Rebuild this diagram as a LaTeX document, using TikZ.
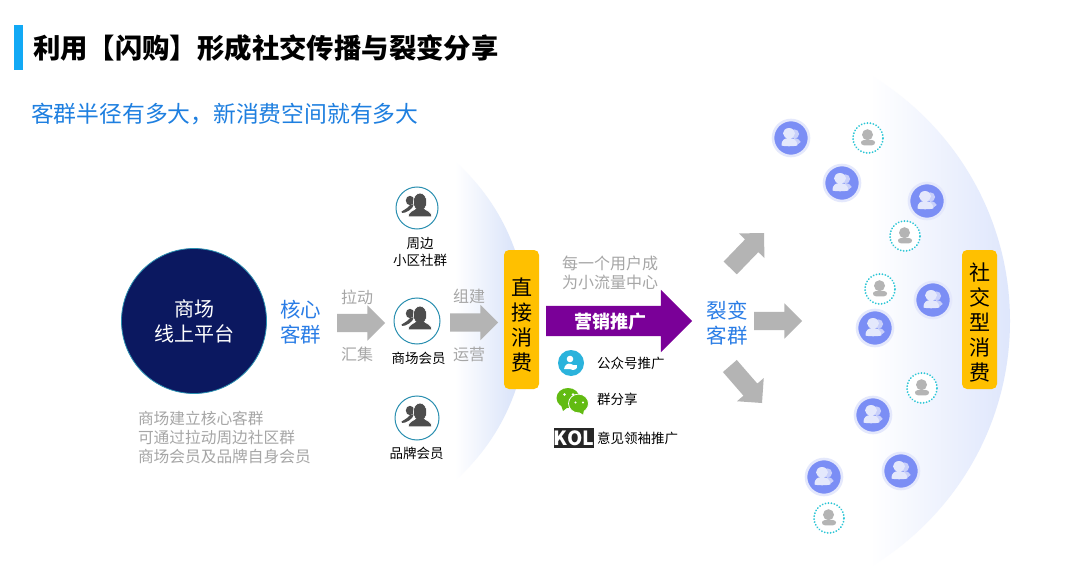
\documentclass[tikz,border=0pt]{standalone}
\usepackage{fontspec}
\setmainfont{Noto Sans CJK SC}
\usetikzlibrary{shapes.arrows}
\definecolor{blueT}{HTML}{2A7DE6}
\definecolor{blueS}{HTML}{1E7FE0}
\definecolor{grayT}{HTML}{A6A6A6}
\definecolor{grayA}{HTML}{B4B4B4}
\definecolor{orangeB}{HTML}{FFC000}
\definecolor{purpleA}{HTML}{7A0098}
\definecolor{tealC}{HTML}{2A8FB0}
\definecolor{peopleC}{HTML}{7B8EF5}
\definecolor{peopleH}{HTML}{E4E8FC}
\definecolor{peopleL}{HTML}{C9D0FA}
\definecolor{lensL}{HTML}{D2DEF8}
\definecolor{lensR}{HTML}{DEE6FC}
\definecolor{navyC}{HTML}{0B1860}
\definecolor{barC}{HTML}{12A9F5}
\definecolor{wechatC}{HTML}{62BB12}
\definecolor{gzhC}{HTML}{2BB3DC}
\definecolor{dotC}{HTML}{2CC6D6}
\definecolor{darkI}{HTML}{4D4D4D}
\newcommand{\fs}[2]{\fontsize{#1pt}{#2pt}\selectfont}
\tikzset{
  x=1pt,y=-1pt,
  every node/.style={inner sep=0pt,outer sep=0pt,align=center},
  gtext/.style={text=grayT,font=\fs{16}{19.5}},
  btext/.style={text=blueT,font=\fs{20.5}{24.5},text width=44pt},
  ktext/.style={text=black,font=\fs{13.5}{17}},
  garrow/.style={shape=single arrow,fill=grayA,minimum height=48pt,single arrow head extend=8.5pt,single arrow head indent=0pt,anchor=tip},
  tallbox/.style={fill=orangeB,rounded corners=5pt,minimum width=35pt,minimum height=139pt},
  talltext/.style={font=\fs{21}{25},text=black},
  memberc/.style={circle,draw=tealC,line width=1pt,fill=white},
  bluep/.style={circle,fill=peopleC,draw=peopleH,line width=2.6pt,minimum size=36pt},
  dotc/.style={circle,draw=dotC,line width=2pt,line cap=round,dash pattern=on 0.01pt off 3pt,minimum size=30pt,fill=white},
  pics/darkp/.style={code={
    \fill[darkI] (-7,-7.5) ellipse (4.2 and 4.7);
    \fill[darkI] (-3,-4) .. controls (-7,-3) and (-9,-2) .. (-10,0) .. controls (-11,1.5) and (-14,2) .. (-15.5,3.5) .. controls (-16.5,5) and (-14,5.5) .. (-12,4.5) .. controls (-9,3.5) and (-7,2) .. (-5,0) -- cycle;
    \draw[white,line width=.7pt,fill=darkI] (3,-6) ellipse (6.6 and 8.8);
    \draw[white,line width=.7pt,fill=darkI] (-9,8.8) .. controls (-9,3.5) and (-3,2.5) .. (-0.5,0) -- (6.5,0) .. controls (9,2.5) and (15,3.5) .. (15,8.8) -- cycle;
    \fill[darkI] (3,-6) ellipse (6.2 and 8.4);
  }},
  pics/lightp/.style={code={
    \fill[peopleL] (3.5,-4) circle (4.6);
    \fill[peopleL] (3,0) .. controls (7,0.5) and (9,2) .. (9.7,4) -- (6,7) -- (2,5) -- cycle;
    \fill[peopleH] (-2,-4.7) ellipse (6 and 5.3);
    \fill[peopleH] (-9.5,7.6) .. controls (-10,2) and (-6,0) .. (-2,0) .. controls (2,0) and (6.5,2) .. (6.3,7.6) .. controls (2,8.5) and (-6,8.5) .. (-9.5,7.6) -- cycle;
  }},
  pics/grayp/.style={code={
    \fill[grayA] (-0.5,-3.3) circle (5.5);
    \fill[grayA] (-7,4.5) .. controls (-7,2.5) and (-4,1.7) .. (0,1.7) .. controls (4,1.7) and (7,2.5) .. (7,4.5) .. controls (7,6) and (6,7.3) .. (4,7.3) -- (-4,7.3) .. controls (-6,7.3) and (-7,6) .. (-7,4.5) -- cycle;
  }},
}
\begin{document}
\begin{tikzpicture}
\useasboundingbox (0,0) rectangle (1077,567);
\fill[white] (0,0) rectangle (1077,567);
% lenses
\begin{scope}
  \clip (314,321) circle (213);
  \shade[left color=white,right color=lensL] (455,100) rectangle (528,540);
\end{scope}
\begin{scope}
  \clip (723.5,321) circle (286.5);
  \shade[left color=white,right color=lensR] (870,30) rectangle (1011,600);
\end{scope}
% title
\fill[fill=barC] (14,25) rectangle (23,70);
\node[anchor=west,font=\fs{27.4}{30}\bfseries,text=black] (title) at (33,48) {利用【闪购】形成社交传播与裂变分享};
\node[anchor=west,font=\fs{22.8}{26},text=blueS] (sub) at (31,114) {客群半径有多大，新消费空间就有多大};
% platform
\node[circle,fill=navyC,draw=tealC,line width=.8pt,minimum size=145pt,text=white,font=\fs{20}{25}] (plat) at (194,321) {商场\\线上平台};
\node[btext] (core) at (300.5,322) {核心\\客群};
\node[garrow] (a1) at (385,323) {\rule{0pt}{18pt}};
\node[gtext] (l1) at (357,297) {拉动};
\node[gtext] (l2) at (357,354) {汇集};
\node[anchor=west,text=grayT,font=\fs{15.7}{19.4},align=left] (desc) at (138,437.5) {商场建立核心客群\\可通过拉动周边社区群\\商场会员及品牌自身会员};
% members
\node[memberc,minimum size=42pt] (m1) at (417,208) {};
\node[memberc,minimum size=46pt] (m2) at (417,321) {};
\node[memberc,minimum size=44pt] (m3) at (417,418) {};
\pic at (m1) {darkp};
\pic at (m2) {darkp};
\pic at (m3) {darkp};
\node[ktext] (t1) at (420,251.5) {周边\\小区社群};
\node[ktext] (t2) at (418.5,358.5) {商场会员};
\node[ktext] (t3) at (416.5,453.5) {品牌会员};
\node[garrow] (a2) at (498,322.5) {\rule{0pt}{18pt}};
\node[gtext] (l3) at (469,296) {组建};
\node[gtext] (l4) at (469,354) {运营};
\node[tallbox] (b1) at (521.5,319.5) {};
\node[talltext] (b1t) at (521.5,325) {直\\接\\消\\费};
% marketing
\node[shape=single arrow,fill=purpleA,minimum height=146pt,single arrow head extend=16pt,single arrow head indent=0pt,anchor=tip] (a3) at (692,321) {\rule{0pt}{30pt}};
\node[text=white,font=\fs{18}{20}\bfseries] (mk) at (610,322) {营销推广};
\node[gtext] (l5) at (610,273) {每一个用户成\\为小流量中心};
\node[circle,fill=gzhC,minimum size=26pt] (ic1) at (571,363) {};
\begin{scope}[shift={(571,363)}]
\fill[white] (-1,-4) circle (3.3);
\fill[white] (-7,6) .. controls (-6,1) and (-3,0) .. (0,1) -- (2,2) -- (6,2) .. controls (7,7) and (2,8) .. (-1,6) -- cycle;
\end{scope}
\node[ktext,anchor=west] (s1) at (597,363) {公众号推广};
% wechat
\begin{scope}[shift={(568,398)}]
\fill[wechatC] (0,0) ellipse (11.5 and 10);
\fill[wechatC] (-7,7) -- (-5,13) -- (0,9) -- cycle;
\fill[white] (-3.5,-3.5) circle (1.4);
\fill[white] (5,-3.5) circle (1.4);
\draw[white,line width=.8pt,fill=wechatC] (10.5,5.5) ellipse (10 and 9.4);
\fill[wechatC] (11,14) -- (15,16.5) -- (16,12) -- cycle;
\fill[white] (7.5,4.5) circle (1.2);
\fill[white] (15,4.5) circle (1.2);
\end{scope}
\node[ktext,anchor=west] (s2) at (597,399) {群分享};
\node[fill=black!85,text=white,font=\fs{19.5}{20}\bfseries,minimum width=38pt,minimum height=20pt] (kol) at (574,438) {KOL};
\node[ktext,anchor=west] (s3) at (597,438) {意见领袖推广};
% fission
\node[btext] (fis) at (727,323) {裂变\\客群};
\node[garrow] (a4) at (802,321) {\rule{0pt}{18pt}};
\node[garrow,rotate=46,minimum height=48.6pt] (a5) at (764,233) {\rule{0pt}{18pt}};
\node[garrow,rotate=-49,minimum height=49pt] (a6) at (762,403) {\rule{0pt}{18pt}};
\node[tallbox] (b2) at (979.5,319.5) {};
\node[talltext] (b2t) at (979.5,322) {社\\交\\型\\消\\费};
% people
\foreach \n/\px/\py in {p1/791/138,p2/842/183,p3/927/201,p4/933/300,p5/875/328,p6/873/415,p7/901/471,p8/824/477} {
  \node[bluep] (\n) at (\px,\py) {};
  \pic at (\n) {lightp};
}
\foreach \n/\px/\py in {d1/868/138,d2/905/236,d3/880/289,d4/922/388,d5/829/518} {
  \node[dotc] (\n) at (\px,\py) {};
  \pic at (\n) {grayp};
}
\end{tikzpicture}
\end{document}
